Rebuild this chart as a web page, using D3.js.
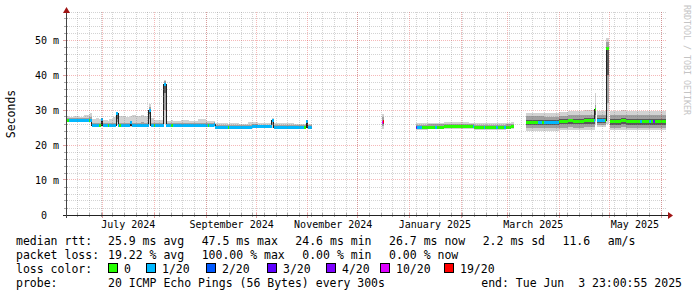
<!DOCTYPE html>
<html>
<head>
<meta charset="utf-8">
<script src="https://cdn.jsdelivr.net/npm/d3@7"></script>
<style>
  body { margin: 0; background: #fff; }
  svg { display: block; }
  text { font-family: "DejaVu Sans Mono", monospace; white-space: pre; }
</style>
</head>
<body>
<script>
// smokeping latency graph, last 360 days, median rtt + smoke + loss colour

const endTime = new Date(2025, 5, 3, 23, 0, 55);
const startTime = d3.timeDay.offset(endTime, -360);

// one row per step, value holds until the next time (null = no data)
const sampleTimes = [
  "2024-06-09 12","2024-06-10 12","2024-06-14 00","2024-06-17 00","2024-06-20 00","2024-06-22 12","2024-06-23 12","2024-06-24 12",
  "2024-06-27 00","2024-06-29 00","2024-06-30 00","2024-07-01 00","2024-07-04 00","2024-07-05 00","2024-07-07 00","2024-07-09 06",
  "2024-07-10 06","2024-07-11 00","2024-07-12 00","2024-07-15 00","2024-07-17 12","2024-07-18 12","2024-07-21 00","2024-07-24 00",
  "2024-07-26 00","2024-07-28 12","2024-07-29 18","2024-07-31 12","2024-08-01 12","2024-08-06 18","2024-08-08 00","2024-08-11 00",
  "2024-08-12 00","2024-08-17 00","2024-08-22 00","2024-08-27 00","2024-09-01 00","2024-09-02 00","2024-09-03 00","2024-09-05 12",
  "2024-09-06 12","2024-09-14 00","2024-09-15 00","2024-09-21 00","2024-09-26 00","2024-09-28 12","2024-10-02 00","2024-10-10 12",
  "2024-10-11 12","2024-10-18 00","2024-10-24 00","2024-10-30 00","2024-10-31 00","2024-11-01 00","2024-11-03 12",
  "2024-12-15 08","2024-12-15 20","2024-12-16 08","2024-12-16 20",
  "2025-01-05 00","2025-01-05 18","2025-01-08 12","2025-01-12 00","2025-01-16 12","2025-01-17 12","2025-01-22 00","2025-02-06 00",
  "2025-02-08 00","2025-02-09 00","2025-02-14 12","2025-02-15 12","2025-02-22 00","2025-02-23 00","2025-02-27 00","2025-02-28 00",
  "2025-03-03 00","2025-03-05 00",
  "2025-03-12 06","2025-03-19 00","2025-03-21 12","2025-03-23 00","2025-04-01 00","2025-04-06 00","2025-04-09 00","2025-04-16 00",
  "2025-04-21 12","2025-04-22 06","2025-04-23 00","2025-04-23 18","2025-04-28 06","2025-04-29 06","2025-04-30 18","2025-05-01 12",
  "2025-05-08 00","2025-05-11 00","2025-05-19 12","2025-05-20 12","2025-05-25 00","2025-05-26 00","2025-05-27 06","2025-05-28 12"
];

// median rtt in ms
const median = [
  27.1,27.1,27.0,27.0,27.0,27.0,27.0,25.5, 25.5,25.5,27.2,25.5,25.5,25.5,25.5,28.9,
  25.5,25.5,25.5,25.5,26.3,25.5,25.5,25.5, 25.5,29.9,25.5,25.5,25.5,37.4,25.5,25.5,
  25.5,25.5,25.5,25.5,25.5,25.5,25.5,26.0, 24.9,24.9,24.9,24.9,24.9,25.2,25.2,27.1,
  25.0,25.0,25.0,25.0,26.7,25.0,null,
  26.5,26.5,26.6,null,
  24.9,24.9,24.9,25.1,25.1,25.1,25.3,25.2, 25.2,25.0,25.0,25.0,25.0,25.0,25.0,25.1,
  25.3,null,
  26.5,26.5,26.5,26.4,26.7,26.9,26.8,27.0, 27.0,30.1,null,26.9,27.0,47.6,null,26.7,
  26.9,26.7,26.7,26.7,26.7,26.7,26.7,26.7
];

// lost pings out of 20
const lossCount = [
  0,1,1,1,1,0,1,1, 1,0,1,1,0,1,1,1,
  1,0,1,1,1,1,1,1, 1,1,1,0,1,1,1,0,
  1,1,1,1,1,0,1,1, 1,0,1,1,1,1,1,1,
  1,1,1,0,1,1,null,
  4,10,19,null,
  3,1,0,0,1,0,0,0, 1,0,1,0,1,0,1,0,
  0,null,
  0,1,0,1,0,0,0,0, 1,0,null,1,0,0,null,0,
  0,0,1,0,1,0,4,0
];

// sorted ping ranks used for the smoke: 1st, 4th, 8th, 13th, 17th, 20th (ms)
const ping1 = [
  26.7,26.7,26.6,26.6,26.6,26.6,26.6,25.1, 25.1,25.1,25.5,25.1,25.1,25.1,25.1,25.6,
  25.1,25.1,25.1,25.1,25.2,25.1,25.1,25.1, 25.1,26.0,25.1,25.1,25.1,26.0,25.1,25.1,
  25.1,25.1,25.1,25.1,25.1,25.1,25.1,25.2, 24.5,24.5,24.5,24.5,24.5,24.8,24.8,25.0,
  24.6,24.6,24.6,24.6,24.8,24.6,null,
  24.5,24.5,24.5,null,
  24.3,24.3,24.3,24.5,24.5,24.5,24.7,24.6, 24.6,24.4,24.4,24.4,24.4,24.4,24.4,24.5,
  24.7,null,
  24.1,24.1,24.1,24.1,24.2,24.3,24.2,24.3, 24.3,26.0,null,25.2,25.2,26.0,null,24.2,
  24.3,24.2,24.2,24.2,24.2,24.2,24.2,24.2
];
const ping4 = [
  26.85,26.85,26.75,26.75,26.75,26.75,26.75,25.25, 25.25,25.25,26.0,25.25,25.25,25.25,25.25,26.5,
  25.25,25.25,25.25,25.25,25.6,25.25,25.25,25.25, 25.25,27.5,25.25,25.25,25.25,30.0,25.25,25.25,
  25.25,25.25,25.25,25.25,25.25,25.25,25.25,25.5, 24.65,24.65,24.65,24.65,24.65,24.95,24.95,25.8,
  24.75,24.75,24.75,24.75,25.3,24.75,null,
  25.3,25.3,25.3,null,
  24.55,24.55,24.55,24.75,24.75,24.75,24.95,24.85, 24.85,24.65,24.65,24.65,24.65,24.65,24.65,24.75,
  24.95,null,
  25.0,25.0,25.0,24.9,25.0,25.1,25.0,25.2, 25.2,27.0,null,25.8,25.8,32.0,null,25.0,
  25.1,25.0,25.0,25.0,25.0,25.0,25.0,25.0
];
const ping8 = [
  27.0,27.0,26.9,26.9,26.9,26.9,26.9,25.4, 25.4,25.4,26.6,25.4,25.4,25.4,25.4,27.5,
  25.4,25.4,25.4,25.4,26.0,25.4,25.4,25.4, 25.4,29.0,25.4,25.4,25.4,35.0,25.4,25.4,
  25.4,25.4,25.4,25.4,25.4,25.4,25.4,25.8, 24.8,24.8,24.8,24.8,24.8,25.1,25.1,26.6,
  24.9,24.9,24.9,24.9,25.9,24.9,null,
  26.0,26.0,26.0,null,
  24.75,24.75,24.75,24.95,24.95,24.95,25.15,25.05, 25.05,24.85,24.85,24.85,24.85,24.85,24.85,24.95,
  25.15,null,
  25.8,25.8,25.8,25.7,25.9,26.0,25.9,26.1, 26.1,28.5,null,26.3,26.3,40.0,null,25.8,
  26.0,25.8,25.8,25.8,25.8,25.8,25.8,25.8
];
const ping13 = [
  27.4,27.4,27.3,27.3,27.3,27.3,27.4,25.8, 25.8,25.8,27.4,25.8,25.8,25.8,25.8,29.0,
  25.8,25.8,25.8,25.8,26.6,25.8,25.8,25.8, 25.8,30.2,25.8,25.8,25.8,37.8,25.8,25.8,
  25.8,25.8,25.8,25.8,25.8,25.8,25.8,26.3, 25.2,25.2,25.2,25.2,25.2,25.5,25.5,27.3,
  25.3,25.3,25.3,25.3,26.9,25.3,null,
  27.0,27.0,27.0,null,
  25.25,25.25,25.25,25.45,25.45,25.45,25.65,25.55, 25.55,25.35,25.35,25.35,25.35,25.35,25.35,25.45,
  25.65,null,
  27.2,27.2,27.2,27.1,27.4,27.5,27.4,27.6, 27.6,30.3,null,27.6,27.6,48.0,null,27.4,
  27.6,27.4,27.4,27.4,27.4,27.4,27.4,27.4
];
const ping17 = [
  27.85,27.85,27.75,27.75,27.8,27.9,28.0,26.25, 26.3,26.2,27.6,26.2,26.2,26.3,26.4,29.1,
  26.3,26.4,26.4,26.3,27.0,26.4,26.3,26.5, 26.4,30.8,26.2,26.2,26.2,38.2,26.2,26.2,
  26.2,26.3,26.2,26.4,26.2,26.2,26.2,26.6, 25.6,25.6,25.7,25.6,25.8,25.9,25.8,27.4,
  25.7,25.8,25.6,25.6,27.0,25.6,null,
  28.0,28.0,28.0,null,
  25.7,25.7,25.7,25.9,25.9,25.9,26.1,26.0, 26.0,25.8,25.8,25.8,25.8,25.8,25.8,25.9,
  26.1,null,
  28.2,28.2,28.2,28.1,28.4,28.6,28.5,28.7, 28.7,31.5,null,28.5,28.5,49.3,null,28.5,
  28.7,28.5,28.5,28.5,28.5,28.5,28.5,28.5
];
const ping20 = [
  28.2,28.0,28.3,28.1,28.6,29.0,29.1,27.3, 27.6,27.4,27.8,27.2,27.0,27.5,28.1,29.3,
  28.0,28.2,28.4,28.0,28.3,28.5,28.2,28.6, 28.3,31.6,27.6,27.2,27.1,38.7,27.0,27.1,
  26.9,27.2,26.9,27.5,27.0,26.9,26.8,26.9, 26.2,26.1,26.3,26.1,26.6,26.6,26.3,27.6,
  26.2,26.3,26.1,26.0,27.2,26.0,null,
  28.9,28.9,28.9,null,
  26.2,26.2,26.2,26.3,26.3,26.3,26.5,26.4, 26.4,26.3,26.3,26.3,26.3,26.3,26.3,26.3,
  26.6,null,
  29.2,29.2,29.2,29.2,29.4,29.7,29.6,29.9, 29.9,35.0,null,29.6,29.6,50.5,null,29.7,
  29.9,29.7,29.7,29.7,29.7,29.7,29.7,29.7
];

const lossSteps = [0, 1, 2, 3, 4, 10, 19];
const lossLabels = ["0", "1/20", "2/20", "3/20", "4/20", "10/20", "19/20"];
const lossColors = ["#26ff00", "#00b8ff", "#0059ff", "#5e00ff", "#7e00ff", "#dd00ff", "#ff0000"];

const yTickValues = [0, 10, 20, 30, 40, 50];
const yTickLabels = ["0  ", "10 m", "20 m", "30 m", "40 m", "50 m"];
const monthLabelStarts = ["2024-07", "2024-09", "2024-11", "2025-01", "2025-03", "2025-05"];
const monthLabels = ["July 2024", "September 2024", "November 2024", "January 2025", "March 2025", "May 2025"];

const rttStats = ["25.9 ms avg", "47.5 ms max", "24.6 ms min", "26.7 ms now", "2.2 ms sd", "11.6", "am/s"];
const lossStats = ["19.22 % avg", "100.00 % max", "0.00 % min", "0.00 % now"];
const probeText = "20 ICMP Echo Pings (56 Bytes) every 300s";
const endText = "end: Tue Jun  3 23:00:55 2025";

// ---------- layout ----------
const width = 697, height = 297;
const plotL = 66, plotR = 666, plotB = 215, plotT = 12;

const x = d3.scaleTime().domain([startTime, endTime]).range([plotL, plotR]);
const y = d3.scaleLinear().domain([0, 58]).range([plotB, plotT]);
const lossColor = d3.scaleOrdinal(lossSteps, lossColors);
const px = v => Math.floor(v) + 0.5;

const svg = d3.select("body").append("svg")
  .attr("width", width).attr("height", height);
svg.append("rect").attr("width", width).attr("height", height).attr("fill", "#fff");

const parse = d3.timeParse("%Y-%m-%d %H");
const rows = sampleTimes.map((t, i) => ({
  t0: parse(t),
  t1: i + 1 < sampleTimes.length ? parse(sampleTimes[i + 1]) : endTime,
  med: median[i], loss: lossCount[i],
  p1: ping1[i], p4: ping4[i], p8: ping8[i], p13: ping13[i], p17: ping17[i], p20: ping20[i]
})).filter(d => d.med != null);

// smoke
const smoke = [["p1", "p20", "#d2d2d2"], ["p4", "p17", "#a0a0a0"], ["p8", "p13", "#585858"]];
smoke.forEach(([lo, hi, col]) => {
  svg.append("g").selectAll("rect").data(rows).join("rect")
    .attr("x", d => x(d.t0))
    .attr("width", d => x(d.t1) - x(d.t0))
    .attr("y", d => y(d[hi]))
    .attr("height", d => y(d[lo]) - y(d[hi]))
    .attr("fill", col)
    .attr("shape-rendering", "crispEdges");
});

// black median line, one path per run of data
const runs = [];
rows.forEach((r, i) => {
  const prev = rows[i - 1];
  if (!prev || prev.t1.getTime() !== r.t0.getTime()) runs.push([]);
  runs[runs.length - 1].push(r);
});
const medLine = d3.line().x(p => x(p[0])).y(p => y(p[1])).curve(d3.curveStepAfter);
svg.append("g").selectAll("path").data(runs).join("path")
  .attr("d", run => medLine(run.map(r => [r.t0, r.med]).concat([[run[run.length - 1].t1, run[run.length - 1].med]])))
  .attr("fill", "none")
  .attr("stroke", "#202020")
  .attr("stroke-width", 1)
  .attr("shape-rendering", "crispEdges");

// loss coloured median band
svg.append("g").selectAll("rect").data(rows).join("rect")
  .attr("x", d => x(d.t0))
  .attr("width", d => x(d.t1) - x(d.t0))
  .attr("y", d => y(d.med) - 1.5)
  .attr("height", 3)
  .attr("fill", d => lossColor(d.loss))
  .attr("shape-rendering", "crispEdges");

// grid (drawn over the data, like rrdtool)
const minorCol = "rgba(120,120,120,0.33)", majorCol = "rgba(225,40,40,0.33)";
const grid = svg.append("g").attr("shape-rendering", "crispEdges").attr("stroke-dasharray", "1,1");

const yMinor = d3.range(2, 59, 2).filter(v => v % 10 !== 0);
const yMajor = d3.range(10, 59, 10);
grid.selectAll(".hmin").data(yMinor).join("line")
  .attr("x1", plotL + 1).attr("x2", plotR).attr("y1", d => px(y(d))).attr("y2", d => px(y(d)))
  .attr("stroke", minorCol);
const weeks = d3.timeSunday.range(startTime, endTime);
const months = d3.timeMonth.range(startTime, endTime);
grid.selectAll(".vmin").data(weeks).join("line")
  .attr("x1", d => px(x(d))).attr("x2", d => px(x(d))).attr("y1", plotT).attr("y2", plotB)
  .attr("stroke", minorCol);
grid.selectAll(".hmaj").data(yMajor).join("line")
  .attr("x1", plotL + 1).attr("x2", plotR).attr("y1", d => px(y(d))).attr("y2", d => px(y(d)))
  .attr("stroke", majorCol);
grid.selectAll(".vmaj").data(months).join("line")
  .attr("x1", d => px(x(d))).attr("x2", d => px(x(d))).attr("y1", plotT).attr("y2", plotB)
  .attr("stroke", majorCol);

// small ticks on the axes
const ticks = svg.append("g").attr("shape-rendering", "crispEdges");
ticks.selectAll(".xt").data(weeks).join("line")
  .attr("x1", d => px(x(d))).attr("x2", d => px(x(d))).attr("y1", plotB - 2).attr("y2", plotB + 2)
  .attr("stroke", "#aaa");
ticks.selectAll(".xT").data(months).join("line")
  .attr("x1", d => px(x(d))).attr("x2", d => px(x(d))).attr("y1", plotB - 2).attr("y2", plotB + 3)
  .attr("stroke", "#e0a0a0");
ticks.selectAll(".yt").data(yMinor).join("line")
  .attr("x1", plotL - 2).attr("x2", plotL + 2).attr("y1", d => px(y(d))).attr("y2", d => px(y(d)))
  .attr("stroke", "#aaa");
ticks.selectAll(".yT").data(yMajor).join("line")
  .attr("x1", plotL - 3).attr("x2", plotL + 2).attr("y1", d => px(y(d))).attr("y2", d => px(y(d)))
  .attr("stroke", "#e0a0a0");

// axis lines and arrows
svg.append("line").attr("x1", plotL - 3).attr("x2", plotR + 3).attr("y1", plotB + 0.5).attr("y2", plotB + 0.5)
  .attr("stroke", "#222").attr("shape-rendering", "crispEdges");
svg.append("line").attr("x1", plotL + 0.5).attr("x2", plotL + 0.5).attr("y1", plotB + 3).attr("y2", 11)
  .attr("stroke", "#444").attr("shape-rendering", "crispEdges");
svg.append("path").attr("d", `M${plotR + 2},${plotB - 3}L${plotR + 7},${plotB + 0.5}L${plotR + 2},${plotB + 4}Z`)
  .attr("fill", "#a01414");
svg.append("path").attr("d", `M${plotL - 3},13L${plotL + 0.5},7L${plotL + 4},13Z`)
  .attr("fill", "#a01414");

// axis labels through d3 axes
const yAxis = d3.axisLeft(y).tickValues(yTickValues)
  .tickFormat((d, i) => yTickLabels[i]).tickSize(0).tickPadding(7);
const yg = svg.append("g").attr("transform", `translate(${plotL},0.5)`).call(yAxis);
yg.select(".domain").remove();
yg.attr("font-family", null).attr("font-size", null);
yg.selectAll("text").attr("font-family", "DejaVu Sans Mono").attr("font-size", 10).attr("fill", "#000");

const monthParse = d3.timeParse("%Y-%m");
const labelTimes = monthLabelStarts.map(m => d3.timeDay.offset(monthParse(m), 15));
const xAxis = d3.axisBottom(x).tickValues(labelTimes)
  .tickFormat((d, i) => monthLabels[i]).tickSize(0).tickPadding(6);
const xg = svg.append("g").attr("transform", `translate(0,${plotB})`).call(xAxis);
xg.select(".domain").remove();
xg.attr("font-family", null).attr("font-size", null);
xg.selectAll("text").attr("font-family", "DejaVu Sans Mono").attr("font-size", 10).attr("fill", "#000");

// vertical titles
svg.append("text").attr("transform", "translate(15,114) rotate(-90)")
  .attr("text-anchor", "middle").attr("font-size", 11.5).attr("fill", "#000").text("Seconds");
svg.append("text").attr("transform", "translate(684,5) rotate(90)")
  .attr("font-size", 8.3).attr("fill", "#c4c4c4").text("RRDTOOL / TOBI OETIKER");

// legend block
const legendFont = 11.5, valueX = 108, itemGap = 17.5;
const legend = svg.append("g").attr("font-size", legendFont).attr("fill", "#000");
const flowLine = (items, yPos) => {
  let cx = valueX;
  items.forEach(s => {
    const t = legend.append("text").attr("x", cx).attr("y", yPos).text(s);
    cx += t.node().getComputedTextLength() + itemGap;
  });
};
legend.append("text").attr("x", 16).attr("y", 245).text("median rtt:");
flowLine(rttStats, 245);
legend.append("text").attr("x", 16).attr("y", 259).text("packet loss:");
flowLine(lossStats, 259);
legend.append("text").attr("x", 16).attr("y", 273).text("loss color:");
const boxX = [108, 146, 206, 267, 326, 380, 444];
lossSteps.forEach((s, i) => {
  legend.append("rect").attr("x", boxX[i] + 0.5).attr("y", 263.5).attr("width", 9).attr("height", 9)
    .attr("fill", lossColor(s)).attr("stroke", "#000").attr("shape-rendering", "crispEdges");
  legend.append("text").attr("x", boxX[i] + 16).attr("y", 273).text(lossLabels[i]);
});
legend.append("text").attr("x", 16).attr("y", 287).text("probe:");
legend.append("text").attr("x", valueX).attr("y", 287).text(probeText);
legend.append("text").attr("x", 682).attr("y", 287).attr("text-anchor", "end").text(endText);
</script>
</body>
</html>
